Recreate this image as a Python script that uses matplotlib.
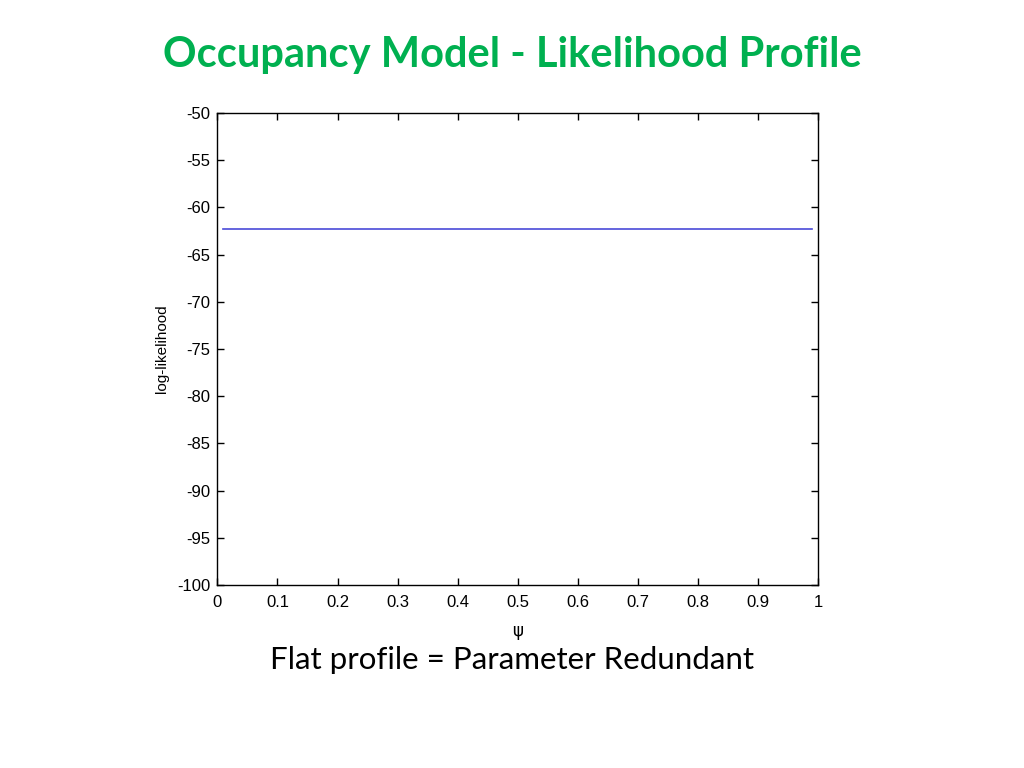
import numpy as np
import matplotlib
matplotlib.use("Agg")
import matplotlib.pyplot as plt

plt.rcParams["axes.unicode_minus"] = False

# profile log-likelihood over psi (flat)
psi = [0.01, 0.99]
loglik = [-62.3, -62.3]

xticks = [0, 0.1, 0.2, 0.3, 0.4, 0.5, 0.6, 0.7, 0.8, 0.9, 1]
xticklabels = ["0", "0.1", "0.2", "0.3", "0.4", "0.5", "0.6", "0.7", "0.8", "0.9", "1"]
yticks = [-100, -95, -90, -85, -80, -75, -70, -65, -60, -55, -50]

fig = plt.figure(figsize=(10.24, 7.68), dpi=100)
ax = fig.add_axes([0.2122, 0.2383, 0.587, 0.6146])

ax.plot(psi, loglik, color="#4a4ad8", linewidth=1.2)

ax.set_xlim(0, 1)
ax.set_ylim(-100, -50)
ax.set_xticks(xticks)
ax.set_xticklabels(xticklabels)
ax.set_yticks(yticks)
ax.tick_params(direction="in", top=True, right=True, length=5, width=1,
               labelsize=12)
ax.tick_params(axis="x", pad=7)
ax.tick_params(axis="y", pad=5)
for lab in ax.get_xticklabels() + ax.get_yticklabels():
    lab.set_family("Liberation Sans")
for s in ax.spines.values():
    s.set_linewidth(1.0)

ax.set_xlabel("ψ", fontsize=12, family="DejaVu Sans", labelpad=9)
ax.set_ylabel("log-likelihood", fontsize=11, family="Liberation Sans", labelpad=6)

fig.text(0.5, 0.928, "Occupancy Model - Likelihood Profile", ha="center", va="center",
         color="#00B050", fontsize=30, fontweight="bold", family="Lato")
fig.text(0.5, 0.140, "Flat profile = Parameter Redundant", ha="center", va="center",
         color="black", fontsize=22.5, family="Lato")

fig.savefig("out.png", dpi=100)
